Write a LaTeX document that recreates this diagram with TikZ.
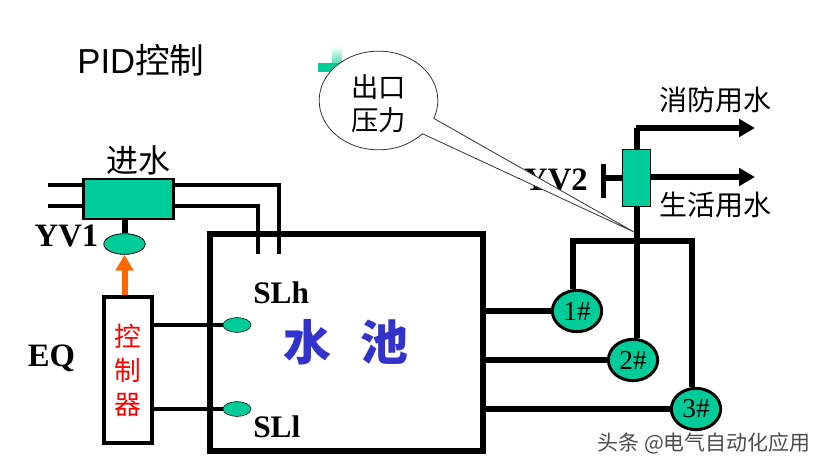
\documentclass[tikz,border=0pt]{standalone}
\usepackage{fontspec}
\setmainfont{Liberation Serif}
\setsansfont{Liberation Sans}
\newfontfamily\cjk{Noto Sans CJK SC}
\usetikzlibrary{arrows.meta, shapes.geometric, shapes.callouts}
\definecolor{pumpgreen}{RGB}{0,204,153}
\definecolor{pooltext}{RGB}{51,51,204}
\definecolor{signal}{RGB}{255,102,0}
\tikzset{
	pipe/.style={line width=3pt},
	mainpipe/.style={line width=4.5pt},
	outlet/.style={mainpipe, -{Triangle[length=12pt, width=13pt]}, shorten >=0pt},
	greenbox/.style={draw, fill=pumpgreen, inner sep=0pt},
	floater/.style={draw, thin, fill=pumpgreen, ellipse, inner sep=0pt, minimum width=21pt, minimum height=11pt},
	pump/.style={draw, line width=2.2pt, fill=pumpgreen, ellipse, inner sep=0pt, minimum width=37pt, minimum height=31pt, font=\fontsize{20.5}{20.5}\selectfont},
	tag/.style={font=\fontsize{24.5}{24.5}\selectfont\bfseries, inner sep=0pt},
	sensortag/.style={font=\fontsize{23.5}{23.5}\selectfont\bfseries, inner sep=0pt, anchor=base west},
	cntext/.style={font=\fontsize{#1}{#1}\selectfont\cjk, inner sep=0pt},
}
\begin{document}
\begin{tikzpicture}[x=0.75pt, y=-0.75pt]
	\useasboundingbox (0,0) rectangle (825,467);
	% small mark behind the callout
	\shade[top color=white, bottom color=pumpgreen] (332,46) rectangle (342,72);
	\fill[pumpgreen] (318,63) rectangle (342,72);
	\node[font=\fontsize{26}{26}\selectfont\sffamily, inner sep=0pt] (title) at (141,60) {PID{\cjk 控制}};

	% inlet side
	\coordinate (inA) at (48,185);
	\coordinate (inB) at (48,206);
	\coordinate (tankA) at (279,254);
	\coordinate (tankB) at (258,254);
	\draw[pipe] (inA) -- (tankA |- inA) -- (tankA);
	\draw[pipe] (inB) -- (tankB |- inB) -- (tankB);
	\node[greenbox, line width=2.2pt, minimum width=67pt, minimum height=30pt] (inValve) at (128.5,199) {};
	\node[cntext=24] (inLabel) at (138.5,160) {进水};
	\node[draw, line width=0.6pt, fill=pumpgreen, ellipse, inner sep=0pt, minimum width=31pt, minimum height=15.5pt] (yv1) at (124.5,244) {};
	\draw[mainpipe] (inValve.south -| yv1) -- (yv1.north);
	\node[tag] (yv1Label) at (66.5,236) {YV1};

	% controller
	\node[draw, line width=3pt, minimum width=36pt, minimum height=109pt, inner sep=0pt, text=red, align=center, font=\fontsize{20}{25.5}\selectfont\cjk] (ctrl) at (128,370) {控\\制\\器};
	\draw[line width=4.5pt, signal, -{Triangle[length=12pt, width=13pt]}] (ctrl.north -| yv1) -- (yv1.south);
	\node[tag] (eqLabel) at (51.5,358) {EQ};

	% pool
	\node[draw, line width=4.5pt, minimum width=204.4pt, minimum height=162.4pt, inner sep=0pt, text=pooltext, font=\fontsize{36}{36}\selectfont\cjk\bfseries] (pool) at (346.25,342.75) {水\hspace{0.6em}池};
	\node[floater] (slh) at (237,325) {};
	\node[floater] (sll) at (237,409) {};
	\draw[pipe] (ctrl.east |- slh) -- (slh.west);
	\draw[pipe] (ctrl.east |- sll) -- (sll.west);
	\node[sensortag] (slhLabel) at (253,303) {SLh};
	\node[sensortag] (sllLabel) at (253,437) {SLl};

	% pumps
	\node[pump] (p1) at (577,311) {1\#};
	\node[pump] (p2) at (633,360) {2\#};
	\node[pump] (p3) at (696,409) {3\#};
	\draw[mainpipe] (pool.east |- p1) -- (p1.west);
	\draw[mainpipe] (pool.east |- p2) -- (p2.west);
	\draw[mainpipe] (pool.east |- p3) -- (p3.west);
	\coordinate (headL) at (573,241);
	\coordinate (headR) at (692,241);
	\coordinate (headM) at (636.5,241);
	\draw[mainpipe] (p1.north -| headL) -- (headL) -- (headR) -- (p3.north -| headR);

	% outlet side
	\coordinate (topBend) at (636.5,128);
	\coordinate (fireEnd) at (755,128);
	\coordinate (lifeEnd) at (755,177);
	\draw[mainpipe] (p2.north -| headM) -- (topBend) -- ++(-1,0);
	\draw[outlet] (topBend) -- (fireEnd);
	\node[greenbox, line width=1pt, minimum width=21pt, minimum height=43pt] (outValve) at (636.5,178) {};
	\draw[outlet] (outValve.east |- lifeEnd) -- (lifeEnd);
	\coordinate (yv2Bar) at (603.5,178);
	\draw[mainpipe] (outValve.west) -- (yv2Bar);
	\draw[line width=3.8pt] (603.5,164) -- (yv2Bar) -- (603.5,198);
	\node[tag, anchor=base east] (yv2Label) at (588,190) {YV2};
	\node[cntext=21] (fireLabel) at (715.5,100) {消防用水};
	\node[cntext=21] (lifeLabel) at (715.5,205) {生活用水};

	% pressure callout
	\coordinate (tip) at (634,232);
	\node[ellipse callout, draw=black!80, line width=0.6pt, fill=white, minimum width=89pt, minimum height=74pt, inner sep=0pt, callout absolute pointer={(tip)}, callout pointer arc=21, align=center, font=\fontsize{20.5}{25}\selectfont\cjk] (outPress) at (378.5,100.5) {\rule{0pt}{22pt}出口\\压力};

	\node[cntext=15.7, text=black!70] (mark) at (704,443) {头条 @电气自动化应用};
\end{tikzpicture}
\end{document}
